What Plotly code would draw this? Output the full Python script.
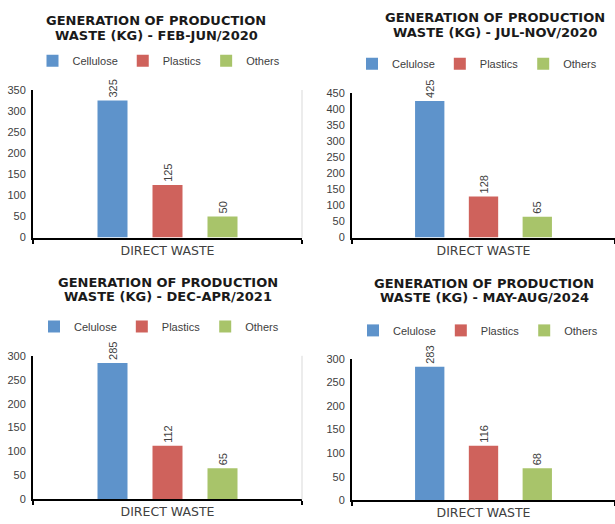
import plotly.graph_objects as go

categories = ["DIRECT WASTE"]
series_top_left = ["Cellulose", "Plastics", "Others"]
series_other = ["Celulose", "Plastics", "Others"]

title_line1 = "GENERATION OF PRODUCTION"
title_line2 = [
    "WASTE (KG) - FEB-JUN/2020",
    "WASTE (KG) - JUL-NOV/2020",
    "WASTE (KG) - DEC-APR/2021",
    "WASTE (KG) - MAY-AUG/2024",
]
values_feb_jun_2020 = [325, 125, 50]
values_jul_nov_2020 = [425, 128, 65]
values_dec_apr_2021 = [285, 112, 65]
values_may_aug_2024 = [283, 116, 68]
y_max = [350, 450, 300, 300]

colors = ["#5E93CB", "#CF625C", "#A8C46A"]
W, H = 615, 524
TXT = "#404040"

panels = [
    dict(vals=values_feb_jun_2020, names=series_top_left, x=(33, 302), y=(86, 237),
         title=(156, 15, 30), leg=(159, 56)),
    dict(vals=values_jul_nov_2020, names=series_other, x=(352, 615), y=(89, 237),
         title=(495, 12, 27), leg=(477, 59)),
    dict(vals=values_dec_apr_2021, names=series_other, x=(33, 302), y=(358, 505),
         title=(168, 283, 297), leg=(159, 328)),
    dict(vals=values_may_aug_2024, names=series_other, x=(352, 615), y=(361, 506),
         title=(484, 284, 298), leg=(478, 332)),
]

fig = go.Figure()
layout = dict(
    width=W, height=H, margin=dict(l=0, r=0, t=0, b=0),
    paper_bgcolor="white", plot_bgcolor="white",
    barmode="group", bargap=0.3866, bargroupgap=0.4545,
    font=dict(family="Liberation Sans, Arial, sans-serif", color=TXT, size=11),
    annotations=[], shapes=[],
)

for i, p in enumerate(panels):
    n = "" if i == 0 else str(i + 1)
    leg = "legend" + n
    for j in range(3):
        fig.add_trace(go.Bar(
            x=categories, y=[p["vals"][j]], name=p["names"][j],
            marker=dict(color=colors[j], line=dict(width=0)),
            text=[str(p["vals"][j])], textposition="outside", textangle=-90,
            textfont=dict(size=11, color=TXT), cliponaxis=False,
            xaxis="x" + n, yaxis="y" + n, legend=leg,
        ))
    layout["xaxis" + n] = dict(
        domain=[p["x"][0] / W, p["x"][1] / W], anchor="y" + n,
        showline=True, linecolor="black", linewidth=2,
        ticks="outside", tickson="boundaries", ticklen=4, tickwidth=2, tickcolor="black",
        tickfont=dict(size=12.5, color=TXT, family="DejaVu Sans, sans-serif"),
        showgrid=False, fixedrange=True,
    )
    layout["yaxis" + n] = dict(
        domain=[1 - p["y"][1] / H, 1 - p["y"][0] / H], anchor="x" + n,
        range=[0, y_max[i]], dtick=50, showline=True, linecolor="black", linewidth=2,
        ticks="", showgrid=False, zeroline=False,
        tickfont=dict(size=11, color=TXT), ticklabelstandoff=3,
    )
    layout[leg] = dict(
        orientation="h", x=p["leg"][0] / W, y=1 - p["leg"][1] / H,
        xanchor="center", yanchor="middle", font=dict(size=11, color=TXT),
        bgcolor="rgba(0,0,0,0)", itemwidth=30, tracegroupgap=0,
    )
    for txt, ty in ((title_line1, p["title"][1]), (title_line2[i], p["title"][2])):
        layout["annotations"].append(dict(
            text="<b>" + txt + "</b>", xref="paper", yref="paper",
            x=p["title"][0] / W, y=1 - ty / H,
            xanchor="center", yanchor="middle", showarrow=False,
            font=dict(family="DejaVu Sans, sans-serif", size=13, color="#1a1a1a"),
        ))
    if p["x"][1] < W:
        layout["shapes"].append(dict(
            type="line", xref="x" + n + " domain", yref="y" + n + " domain",
            x0=1, x1=1, y0=0, y1=1, line=dict(color="#D9D9D9", width=1),
        ))

fig.update_layout(**layout)
fig.write_html("out.html")
